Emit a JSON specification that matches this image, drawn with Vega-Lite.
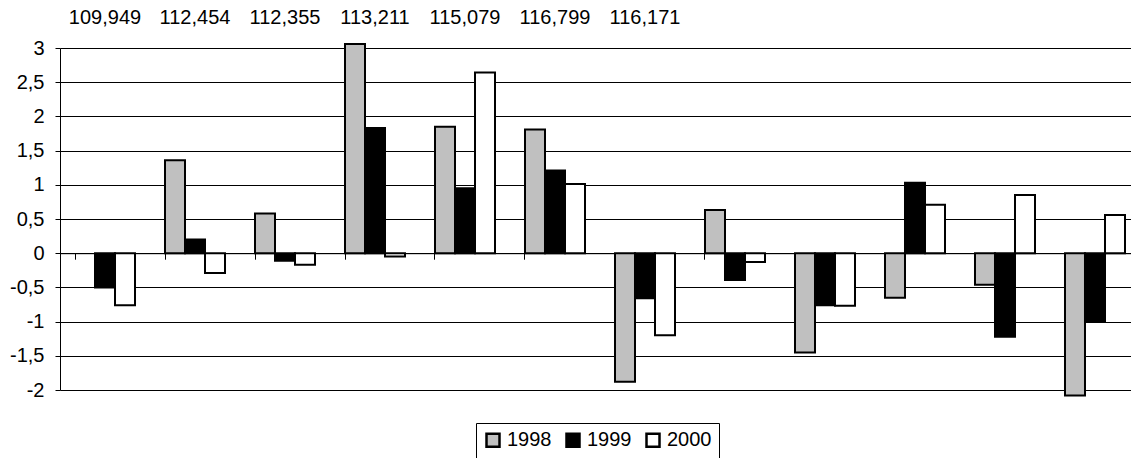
{
  "$schema": "https://vega.github.io/schema/vega-lite/v6.json",
  "width": 1071,
  "height": 342,
  "autosize": {"type": "none"},
  "padding": {"left": 60, "top": 48, "right": 0, "bottom": 68},
  "background": "white",
  "config": {
    "view": {"stroke": null},
    "font": "Liberation Sans",
    "axis": {"labelFont": "Liberation Sans", "labelColor": "black", "labelFontSize": 20}
  },
  "data": {
    "values": [
      {"cat": "109,949", "year": "1999", "value": -0.5},
      {"cat": "109,949", "year": "2000", "value": -0.76},
      {"cat": "112,454", "year": "1998", "value": 1.36},
      {"cat": "112,454", "year": "1999", "value": 0.2},
      {"cat": "112,454", "year": "2000", "value": -0.29},
      {"cat": "112,355", "year": "1998", "value": 0.58},
      {"cat": "112,355", "year": "1999", "value": -0.11},
      {"cat": "112,355", "year": "2000", "value": -0.17},
      {"cat": "113,211", "year": "1998", "value": 3.06},
      {"cat": "113,211", "year": "1999", "value": 1.83},
      {"cat": "113,211", "year": "2000", "value": -0.05},
      {"cat": "115,079", "year": "1998", "value": 1.85},
      {"cat": "115,079", "year": "1999", "value": 0.95},
      {"cat": "115,079", "year": "2000", "value": 2.64},
      {"cat": "116,799", "year": "1998", "value": 1.81},
      {"cat": "116,799", "year": "1999", "value": 1.21},
      {"cat": "116,799", "year": "2000", "value": 1.01},
      {"cat": "116,171", "year": "1998", "value": -1.88},
      {"cat": "116,171", "year": "1999", "value": -0.66},
      {"cat": "116,171", "year": "2000", "value": -1.2},
      {"cat": "c8", "year": "1998", "value": 0.63},
      {"cat": "c8", "year": "1999", "value": -0.39},
      {"cat": "c8", "year": "2000", "value": -0.13},
      {"cat": "c9", "year": "1998", "value": -1.45},
      {"cat": "c9", "year": "1999", "value": -0.76},
      {"cat": "c9", "year": "2000", "value": -0.77},
      {"cat": "c10", "year": "1998", "value": -0.65},
      {"cat": "c10", "year": "1999", "value": 1.03},
      {"cat": "c10", "year": "2000", "value": 0.71},
      {"cat": "c11", "year": "1998", "value": -0.46},
      {"cat": "c11", "year": "1999", "value": -1.22},
      {"cat": "c11", "year": "2000", "value": 0.85},
      {"cat": "c12", "year": "1998", "value": -2.08},
      {"cat": "c12", "year": "1999", "value": -0.99},
      {"cat": "c12", "year": "2000", "value": 0.56}
    ]
  },
  "encoding": {
    "y": {
      "field": "value",
      "type": "quantitative",
      "scale": {"domain": [-2, 3], "nice": false, "zero": false},
      "axis": {
        "values": [-2, -1.5, -1, -0.5, 0, 0.5, 1, 1.5, 2, 2.5, 3],
        "labelExpr": "replace(toString(datum.value), '.', ',')",
        "title": null,
        "grid": true,
        "gridColor": "black",
        "gridWidth": 1,
        "gridOpacity": 1,
        "domainColor": "black",
        "domainWidth": 1,
        "tickColor": "black",
        "tickSize": 5,
        "labelPadding": 11,
        "labelFontSize": 20,
        "labelColor": "black"
      }
    }
  },
  "layer": [
    {
      "mark": {"type": "bar", "stroke": "black", "strokeWidth": 2},
      "encoding": {
        "x": {
          "field": "cat",
          "type": "nominal",
          "sort": null,
          "scale": {"range": [0, 1080], "paddingInner": 0.3333, "paddingOuter": 0.1667},
          "axis": {
            "orient": "top",
            "title": null,
            "ticks": false,
            "tickSize": 0,
            "domain": false,
            "grid": false,
            "labelAngle": 0,
            "labelFontSize": 20,
            "labelColor": "black",
            "labelPadding": 21,
            "labelOverlap": false,
            "labelExpr": "indexof(datum.label, ',') >= 0 ? datum.label : ''"
          }
        },
        "xOffset": {"field": "year", "type": "nominal", "scale": {"paddingInner": 0, "paddingOuter": 0}},
        "color": {
          "field": "year",
          "type": "nominal",
          "scale": {"domain": ["1998", "1999", "2000"], "range": ["#C0C0C0", "#000000", "#FFFFFF"]},
          "legend": {
            "orient": "none",
            "legendX": 416,
            "legendY": 375,
            "direction": "horizontal",
            "title": null,
            "strokeColor": "black",
            "fillColor": "white",
            "padding": 7,
            "symbolType": "square",
            "symbolSize": 169,
            "symbolStrokeColor": "black",
            "symbolStrokeWidth": 2.5,
            "symbolOpacity": 1,
            "labelFontSize": 20,
            "labelColor": "black",
            "labelOffset": 4,
            "columnPadding": 9
          }
        }
      }
    },
    {
      "mark": {"type": "point", "opacity": 0},
      "encoding": {
        "x": {
          "field": "cat",
          "type": "nominal",
          "sort": null,
          "axis": {
            "orient": "bottom",
            "offset": -136.8,
            "labels": false,
            "ticks": true,
            "tickSize": 6,
            "tickColor": "black",
            "tickWidth": 1,
            "domainColor": "black",
            "domainWidth": 1,
            "grid": false,
            "title": null,
            "bandPosition": 0
          }
        }
      }
    }
  ],
  "resolve": {"axis": {"x": "independent"}}
}
